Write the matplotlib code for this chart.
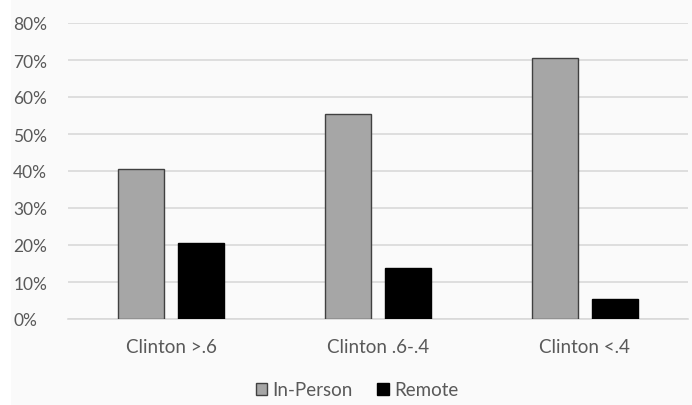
import matplotlib
matplotlib.use("Agg")
import matplotlib.pyplot as plt
from matplotlib.patches import Rectangle
from matplotlib.ticker import PercentFormatter
import numpy as np

categories = ["Clinton >.6", "Clinton .6-.4", "Clinton <.4"]
in_person = [0.405, 0.554, 0.705]
remote = [0.205, 0.139, 0.053]
y_ticks = [0.0, 0.1, 0.2, 0.3, 0.4, 0.5, 0.6, 0.7, 0.8]

plt.rcParams["font.family"] = ["Lato", "DejaVu Sans"]
text_color = "#595959"

W, H = 692, 406
fig = plt.figure(figsize=(W / 100, H / 100), dpi=100, facecolor="white")
# soft off-white chart panel behind everything
fig.patches.append(Rectangle((11 / W, 0), 1 - 11 / W, 1, transform=fig.transFigure,
                             facecolor="#fafafa", edgecolor="none", zorder=-5))

ax = fig.add_axes([68 / W, 86 / H, 620 / W, 296 / H])
ax.set_facecolor("none")

x = np.arange(len(categories))
bw = 0.223
gap = 0.068
off = (bw + gap) / 2
ax.bar(x - off, in_person, bw, color="#a6a6a6", edgecolor="#404040", linewidth=1.0,
       label="In-Person", zorder=3)
ax.bar(x + off, remote, bw, color="black", edgecolor="black", linewidth=1.0,
       label="Remote", zorder=3)

ax.set_xlim(-0.5, len(categories) - 0.5)
ax.set_ylim(0, 0.8)
ax.set_yticks(y_ticks)
ax.yaxis.set_major_formatter(PercentFormatter(1.0, decimals=0))
ax.set_xticks(x)
ax.set_xticklabels(categories)
ax.grid(axis="y", color="#d9d9d9", linewidth=1.2, zorder=0)
ax.set_axisbelow(True)
for s in ["top", "right", "left"]:
    ax.spines[s].set_visible(False)
ax.spines["bottom"].set_color("#d9d9d9")
ax.spines["bottom"].set_linewidth(1.2)
ax.tick_params(axis="both", length=0, colors=text_color)
ax.tick_params(axis="y", pad=39.5, labelsize=12.5)
ax.tick_params(axis="x", pad=14, labelsize=13.5)
for lbl in ax.get_yticklabels():
    lbl.set_horizontalalignment("left")

leg = fig.legend(loc="center", bbox_to_anchor=(357 / W, 1 - 391 / H), ncol=2,
                 frameon=False, fontsize=13.5, handlelength=0.6, handleheight=0.6,
                 handletextpad=0.3, columnspacing=1.3)
for t in leg.get_texts():
    t.set_color(text_color)

fig.savefig("out.png", dpi=100, facecolor=fig.get_facecolor())
